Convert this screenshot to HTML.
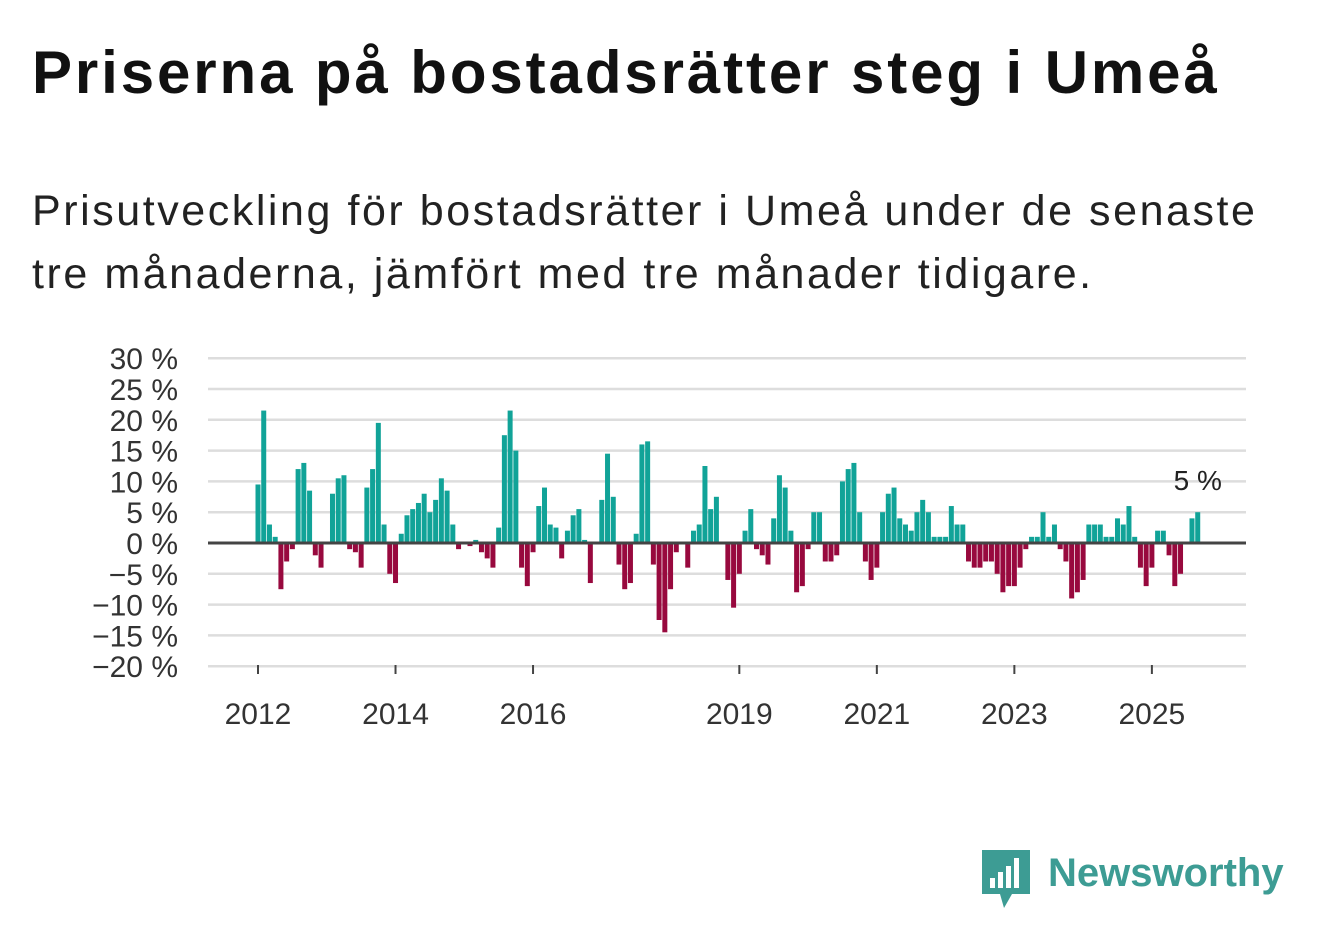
<!DOCTYPE html>
<html><head><meta charset="utf-8">
<style>
body{margin:0;width:1322px;height:939px;background:#fff;font-family:"Liberation Sans",sans-serif;overflow:hidden;position:relative}
h1{position:absolute;left:32px;top:38px;margin:0;font-size:60px;font-weight:bold;color:#111;letter-spacing:2.9px;white-space:nowrap}
p{position:absolute;left:32px;top:180px;margin:0;font-size:43px;line-height:63px;color:#222;width:1270px;letter-spacing:2.55px}
svg{position:absolute;left:0;top:0}
</style></head><body>
<h1>Priserna på bostadsrätter steg i Umeå</h1>
<p>Prisutveckling för bostadsrätter i Umeå under de senaste<br>tre månaderna, jämfört med tre månader tidigare.</p>
<svg id="chart" width="1322" height="939"></svg>
<div style="position:absolute;left:982px;top:850px;display:flex;align-items:center">
<svg width="48" height="58" style="position:static"><path d="M0 0H48V44H30L22 58L18 44H0Z" fill="#3d9c94"/><rect x="8" y="28" width="5" height="10" fill="#fff"/><rect x="16" y="22" width="5" height="16" fill="#fff"/><rect x="24" y="16" width="5" height="22" fill="#fff"/><rect x="32" y="8" width="5" height="30" fill="#fff"/></svg>
<span style="font-size:40px;font-weight:bold;color:#3d9c94;margin-left:18px;margin-top:-12px">Newsworthy</span></div>
<script>
const values=[9.5,21.5,3,1,-7.5,-3,-1,12,13,8.5,-2,-4,
0,8,10.5,11,-1,-1.5,-4,9,12,19.5,3,-5,
-6.5,1.5,4.5,5.5,6.5,8,5,7,10.5,8.5,3,-1,
0,-0.5,0.5,-1.5,-2.5,-4,2.5,17.5,21.5,15,-4,-7,
-1.5,6,9,3,2.5,-2.5,2,4.5,5.5,0.5,-6.5,0,
7,14.5,7.5,-3.5,-7.5,-6.5,1.5,16,16.5,-3.5,-12.5,-14.5,
-7.5,-1.5,0,-4,2,3,12.5,5.5,7.5,0,-6,-10.5,
-5,2,5.5,-1,-2,-3.5,4,11,9,2,-8,-7,
-1,5,5,-3,-3,-2,10,12,13,5,-3,-6,
-4,5,8,9,4,3,2,5,7,5,1,1,
1,6,3,3,-3,-4,-4,-3,-3,-5,-8,-7,
-7,-4,-1,1,1,5,1,3,-1,-3,-9,-8,
-6,3,3,3,1,1,4,3,6,1,-4,-7,
-4,2,2,-2,-7,-5,0,4,5];
const yTicks=[30,25,20,15,10,5,0,-5,-10,-15,-20];
const xTickYears=[2012,2014,2016,2019,2021,2023,2025];
const lastLabel="5 %";
const svg=document.getElementById('chart');
const NS='http://www.w3.org/2000/svg';
const y=v=>543-v*6.16;
const x=i=>258+i*5.73;
function el(t,a,txt){const e=document.createElementNS(NS,t);for(const k in a)e.setAttribute(k,a[k]);if(txt!=null)e.textContent=txt;svg.appendChild(e);return e;}
yTicks.forEach(t=>{
 if(t!==0){const g=el('line',{x1:208,x2:1246,y1:y(t),y2:y(t),stroke:'#ddd','stroke-width':2.5});
 
 }
 const lb=el('text',{x:178,y:y(t)+11,'text-anchor':'end','font-size':30,fill:'#333'},(t<0?'\u2212'+(-t):t)+' %');
 
 
});
values.forEach((v,i)=>{
 const r=el('rect',{x:x(i)-2.5,y:Math.min(y(v),y(0)),width:5,height:Math.abs(y(v)-y(0)),fill:v>=0?'#11a398':'#98093e'});
 
 
});
const z=el('line',{x1:208,x2:1246,y1:y(0),y2:y(0),stroke:'#444','stroke-width':3});


xTickYears.forEach(yr=>{
 const i=(yr-2012)*12;
 const t=el('line',{x1:x(i),x2:x(i),y1:665,y2:674,stroke:'#444','stroke-width':2});
 
 
 const lb=el('text',{x:x(i),y:724,'text-anchor':'middle','font-size':30,fill:'#333'},yr);
 
 
});
const n=values.length-1;
const ll=el('text',{x:x(n),y:y(values[n])-22,'text-anchor':'middle','font-size':28,fill:'#222'},lastLabel);


</script>
</body></html>
